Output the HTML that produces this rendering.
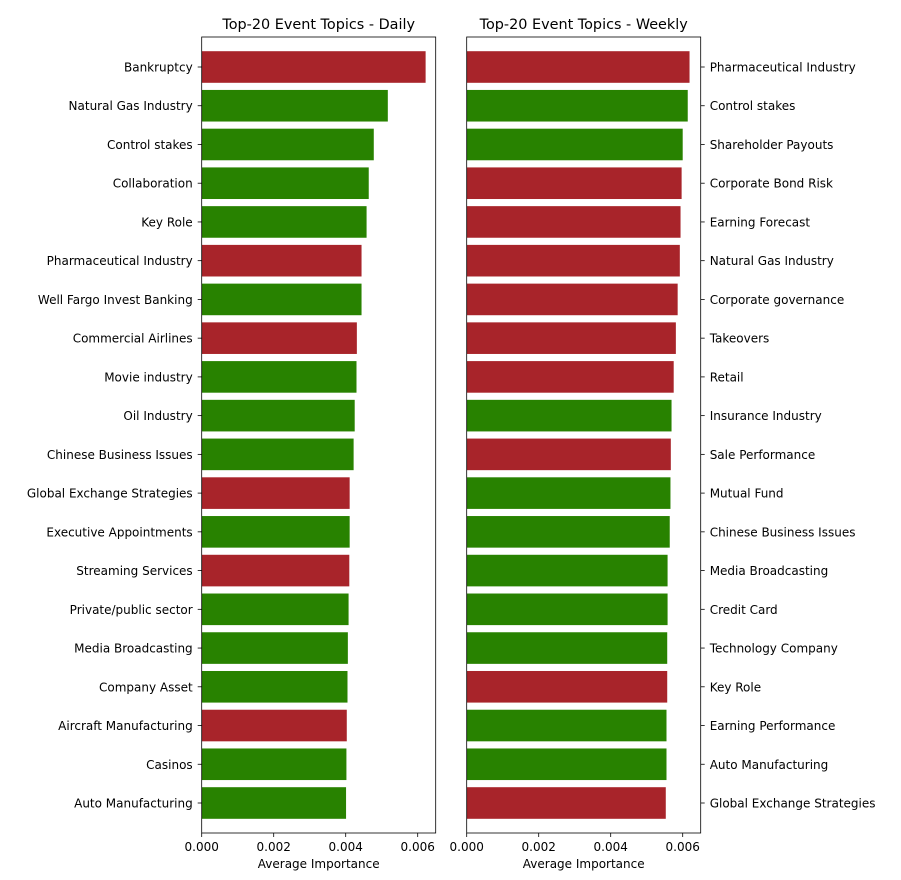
<!DOCTYPE html>
<html><head><meta charset="utf-8"><style>
body{margin:0;background:#fff;font-family:"DejaVu Sans","Liberation Sans",sans-serif}
svg text{font-family:"DejaVu Sans","Liberation Sans",sans-serif}
</style></head><body>
<svg id="chart" width="901" height="876" viewBox="0 0 901 876" xmlns="http://www.w3.org/2000/svg"></svg>
<script>
const dailyCats=["Bankruptcy","Natural Gas Industry","Control stakes","Collaboration","Key Role","Pharmaceutical Industry","Well Fargo Invest Banking","Commercial Airlines","Movie industry","Oil Industry","Chinese Business Issues","Global Exchange Strategies","Executive Appointments","Streaming Services","Private/public sector","Media Broadcasting","Company Asset","Aircraft Manufacturing","Casinos","Auto Manufacturing"];
const dailyVals=[0.00622,0.00517,0.00478,0.00464,0.00458,0.00444,0.00444,0.00431,0.00430,0.00425,0.00422,0.00411,0.00411,0.00410,0.00408,0.00406,0.00405,0.00403,0.00402,0.00401];
const dailySign=["neg","pos","pos","pos","pos","neg","pos","neg","pos","pos","pos","neg","pos","neg","pos","pos","pos","neg","pos","pos"];
const weeklyCats=["Pharmaceutical Industry","Control stakes","Shareholder Payouts","Corporate Bond Risk","Earning Forecast","Natural Gas Industry","Corporate governance","Takeovers","Retail","Insurance Industry","Sale Performance","Mutual Fund","Chinese Business Issues","Media Broadcasting","Credit Card","Technology Company","Key Role","Earning Performance","Auto Manufacturing","Global Exchange Strategies"];
const weeklyVals=[0.00619,0.00614,0.00600,0.00597,0.00594,0.00592,0.00586,0.00581,0.00575,0.00569,0.00567,0.00566,0.00564,0.00558,0.00558,0.00557,0.00557,0.00555,0.00555,0.00553];
const weeklySign=["neg","pos","pos","neg","neg","neg","neg","neg","neg","pos","neg","pos","pos","pos","pos","pos","neg","pos","pos","neg"];
const xTicks=[0,0.002,0.004,0.006];
const xTickLabels=["0.000","0.002","0.004","0.006"];

const NS="http://www.w3.org/2000/svg";
const svg=document.getElementById('chart');
function mk(t,a,p){const e=document.createElementNS(NS,t);for(const k in a)e.setAttribute(k,a[k]);(p||svg).appendChild(e);return e;}
const topY=37,bot=833,pxPer=36000;
function yPos(i){return 67+i*(803-67)/19;}
function panel(x0,cats,vals,sign,title,labelsRight,nm){
  const g=mk('g',{});
  
  
  const x1=x0+234;
  const xs=v=>x0+v*pxPer;
  cats.forEach((c,i)=>{
    const y=yPos(i);
    const r=mk('rect',{x:xs(0),y:y-15.8,width:xs(vals[i])-xs(0),height:31.6,fill:sign[i]==='neg'?'#a8242a':'#288200'},g);
    
    
    const tx=labelsRight?x1:x0;
    mk('line',{x1:tx,x2:labelsRight?tx+4:tx-4,y1:y,y2:y,stroke:'#000','stroke-width':0.8},g);
    const t=mk('text',{x:labelsRight?tx+9:tx-9,y:y+4.5,'font-size':12,'text-anchor':labelsRight?'start':'end',fill:'#000'},g);
    t.textContent=c;
    
    
  });
  const fr=mk('rect',{x:x0,y:topY,width:x1-x0,height:bot-topY,fill:'none',stroke:'#000','stroke-width':0.8},g);
  
  
  xTicks.forEach((v,i)=>{
    const x=xs(v);
    mk('line',{x1:x,x2:x,y1:bot,y2:bot+4,stroke:'#000','stroke-width':0.8},g);
    const t=mk('text',{x:x,y:bot+18,'font-size':12,'text-anchor':'middle'},g);
    t.textContent=xTickLabels[i];
    
    
  });
  const xt=mk('text',{x:(x0+x1)/2,y:bot+35,'font-size':12,'text-anchor':'middle'},g);
  xt.textContent='Average Importance';
  
  
  const tt=mk('text',{x:(x0+x1)/2,y:topY-8,'font-size':14.4,'text-anchor':'middle'},g);
  tt.textContent=title;
  
  
}
panel(201.7,dailyCats,dailyVals,dailySign,'Top-20 Event Topics - Daily',false,'daily');
panel(466.7,weeklyCats,weeklyVals,weeklySign,'Top-20 Event Topics - Weekly',true,'weekly');
</script>
</body></html>
